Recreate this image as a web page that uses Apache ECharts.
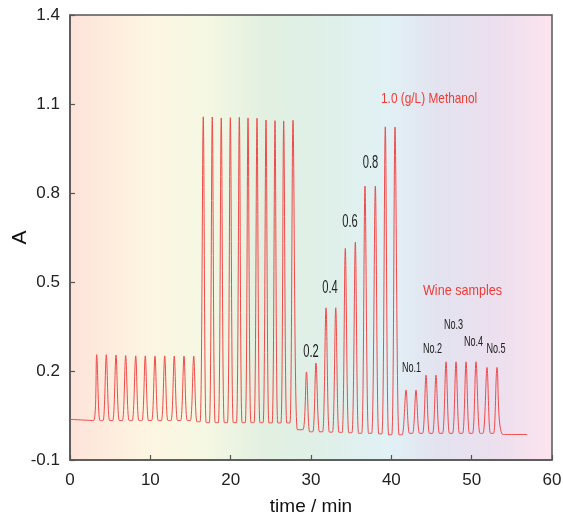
<!DOCTYPE html>
<html>
<head>
<meta charset="utf-8">
<script src="https://cdn.jsdelivr.net/npm/echarts@6/dist/echarts.min.js"></script>
<style>html,body{margin:0;padding:0;background:#fff;}#c{width:563px;height:515px;}</style>
</head>
<body>
<div id="c"></div>
<script>
// ---- data ----
const xTicks = [0, 10, 20, 30, 40, 50, 60];
const yTicks = [-0.1, 0.2, 0.5, 0.8, 1.1, 1.4];

// peak apexes (time / min, absorbance)
const peakTime = [
  3.32, 4.52, 5.73, 6.93, 8.18, 9.37, 10.58, 11.79, 12.98, 14.19, 15.40,
  16.59, 17.71, 18.83, 19.96, 21.08, 22.16, 23.28, 24.40, 25.52, 26.60, 27.76,
  29.44, 30.62, 31.87, 33.08, 34.27, 35.52, 36.72, 38.01, 39.25, 40.46,
  41.83, 43.07, 44.32, 45.56, 46.81, 48.05, 49.30, 50.54, 51.91, 53.16
];
const peakA = [
  0.255, 0.255, 0.254, 0.252, 0.251, 0.251, 0.250, 0.251, 0.250, 0.250, 0.250,
  1.057, 1.056, 1.053, 1.054, 1.055, 1.053, 1.052, 1.046, 1.044, 1.043, 1.045,
  0.197, 0.227, 0.413, 0.413, 0.613, 0.634, 0.823, 0.823, 1.023, 1.022,
  0.136, 0.136, 0.186, 0.186, 0.231, 0.231, 0.231, 0.231, 0.212, 0.212
];
// baseline / trough edge points (time / min, absorbance)
const valleyTime = [
  0, 2.95,
  3.72, 4.12, 4.92, 5.32, 6.13, 6.53, 7.35, 7.75, 8.57, 8.97, 9.77, 10.17,
  10.98, 11.38, 12.18, 12.58, 13.38, 13.78, 14.59, 14.99, 15.80, 16.20,
  16.95, 17.35, 18.07, 18.47, 19.20, 19.60, 20.32, 20.72, 21.42, 21.82,
  22.52, 22.92, 23.64, 24.04, 24.76, 25.16, 25.86, 26.26, 26.98, 27.38,
  28.30, 29.00,
  29.83, 30.23, 31.05, 31.45, 32.28, 32.68, 33.48, 33.88, 34.70, 35.10,
  35.92, 36.32, 37.16, 37.56, 38.43, 38.83, 39.66, 40.06, 40.95, 41.35,
  42.25, 42.65, 43.50, 43.90, 44.74, 45.14, 45.98, 46.38, 47.23, 47.63,
  48.48, 48.88, 49.72, 50.12, 51.02, 51.42, 52.33, 52.73,
  53.90, 56.90
];
const valleyA = [
  0.037, 0.033,
  0.033, 0.033, 0.033, 0.033, 0.033, 0.033, 0.033, 0.033, 0.033, 0.033, 0.033, 0.033,
  0.033, 0.033, 0.033, 0.033, 0.033, 0.033, 0.033, 0.033, 0.029, 0.029,
  0.026, 0.026, 0.026, 0.026, 0.026, 0.026, 0.026, 0.026, 0.026, 0.026,
  0.026, 0.026, 0.026, 0.026, 0.025, 0.025, 0.025, 0.025, 0.025, 0.025,
  0.002, 0.002,
  -0.005, -0.005, -0.005, -0.005, -0.006, -0.006, -0.007, -0.007, -0.008, -0.008,
  -0.010, -0.010, -0.010, -0.010, -0.012, -0.012, -0.015, -0.015, -0.015, -0.015,
  -0.010, -0.010, -0.010, -0.010, -0.010, -0.010, -0.010, -0.010, -0.010, -0.010,
  -0.010, -0.010, -0.010, -0.010, -0.010, -0.010, -0.010, -0.010,
  -0.014, -0.014
];

const trace = peakTime.map((t, i) => [t, peakA[i]])
  .concat(valleyTime.map((t, i) => [t, valleyA[i]]))
  .sort((a, b) => a[0] - b[0]);

// annotation texts
const stdLabels = ['0.2', '0.4', '0.6', '0.8'];
const wineLabels = ['No.1', 'No.2', 'No.3', 'No.4', 'No.5'];
const methanolLabel = '1.0 (g/L) Methanol';
const wineTitle = 'Wine samples';

const chart = echarts.init(document.getElementById('c'), null, {renderer: 'canvas'});
const FONT = '"Liberation Sans", Arial, sans-serif';

const stdPos = [[311, 352], [330, 288], [350, 222], [370.5, 163]];
const winePos = [[411.5, 368], [432.5, 349], [453.5, 325], [473.5, 342], [496, 349]];

const graphics = [];
stdLabels.forEach((s, i) => graphics.push({
  type: 'text', x: stdPos[i][0], y: stdPos[i][1], z: 10, scaleX: 0.62,
  style: {text: s, font: '18px ' + FONT, fill: '#222', textAlign: 'center', textVerticalAlign: 'middle'}
}));
wineLabels.forEach((s, i) => graphics.push({
  type: 'text', x: winePos[i][0], y: winePos[i][1], z: 10, scaleX: 0.65,
  style: {text: s, font: '14px ' + FONT, fill: '#222', textAlign: 'center', textVerticalAlign: 'middle'}
}));
graphics.push({
  type: 'text', x: 381, y: 99, z: 10, scaleX: 0.79,
  style: {text: methanolLabel, font: '15px ' + FONT, fill: '#ee3b36', textAlign: 'left', textVerticalAlign: 'middle'}
});
graphics.push({
  type: 'text', x: 462.5, y: 290.5, z: 10, scaleX: 0.84,
  style: {text: wineTitle, font: '15px ' + FONT, fill: '#ee3b36', textAlign: 'center', textVerticalAlign: 'middle'}
});

chart.setOption({
  animation: false,
  backgroundColor: '#ffffff',
  grid: {
    left: 70, right: 11, top: 15, bottom: 55,
    containLabel: false, outerBoundsMode: 'none',
    show: true, borderColor: '#555', borderWidth: 1.5,
    backgroundColor: {
      type: 'linear', x: 0, y: 0, x2: 1, y2: 0,
      colorStops: [
        {offset: 0.00, color: '#fde3da'},
        {offset: 0.16, color: '#fdf5e1'},
        {offset: 0.28, color: '#f5f8e3'},
        {offset: 0.40, color: '#e3f0e1'},
        {offset: 0.55, color: '#dff0eb'},
        {offset: 0.66, color: '#e1f1f5'},
        {offset: 0.76, color: '#e3e3f0'},
        {offset: 0.88, color: '#ecdfee'},
        {offset: 1.00, color: '#fce4ee'}
      ]
    }
  },
  graphic: graphics,
  xAxis: {
    type: 'value', min: xTicks[0], max: xTicks[xTicks.length - 1], interval: 10,
    name: 'time / min', nameLocation: 'middle', nameGap: 37,
    nameTextStyle: {fontFamily: FONT, fontSize: 19, color: '#111'},
    axisLine: {show: true, onZero: false, lineStyle: {color: '#555', width: 1.5}},
    axisTick: {show: true, inside: true, length: 5, lineStyle: {color: '#555', width: 1.2}},
    axisLabel: {fontFamily: FONT, fontSize: 17, color: '#222', margin: 12},
    splitLine: {show: false}
  },
  yAxis: {
    type: 'value', min: yTicks[0], max: yTicks[yTicks.length - 1], interval: 0.3,
    name: 'A', nameLocation: 'middle', nameGap: 39, nameRotate: 90, nameMoveOverlap: false,
    nameTextStyle: {fontFamily: FONT, fontSize: 21, color: '#111'},
    axisLine: {show: true, onZero: false, lineStyle: {color: '#555', width: 1.5}},
    axisTick: {show: true, inside: true, length: 5, lineStyle: {color: '#555', width: 1.2}},
    axisLabel: {fontFamily: FONT, fontSize: 17, color: '#222', margin: 10,
      formatter: v => (Math.round(v * 10) / 10).toFixed(1)},
    splitLine: {show: false}
  },
  series: [{
    type: 'line', data: trace, showSymbol: false, smooth: 0.3,
    lineStyle: {color: '#f04a4a', width: 1},
    clip: true
  }]
});
</script>
</body>
</html>
